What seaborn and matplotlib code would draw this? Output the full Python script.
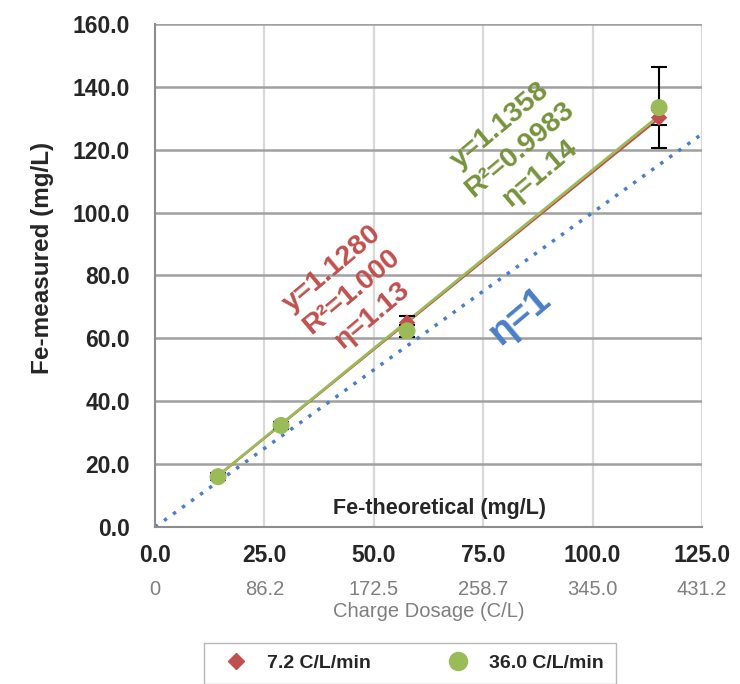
import numpy as np
import matplotlib
matplotlib.use("Agg")
import matplotlib.pyplot as plt
import seaborn as sns

# data
fe_theo = [14.4, 28.8, 57.6, 115.2]
fe_red = [16.2, 32.4, 65.0, 130.2]      # 7.2 C/L/min
err_red = [1.0, 1.0, 2.0, 2.5]
fe_green = [16.0, 32.3, 62.4, 133.4]    # 36.0 C/L/min
err_green = [1.0, 1.0, 2.0, 13.0]
slope_red = 1.1280
slope_green = 1.1358
x_ticks = [0, 25, 50, 75, 100, 125]
y_ticks = [0, 20, 40, 60, 80, 100, 120, 140, 160]
dose_ticks = [0, 86.2, 172.5, 258.7, 345.0, 431.2]
dose_labels = ["0", "86.2", "172.5", "258.7", "345.0", "431.2"]

sns.set_style("white")
plt.rcParams['font.family'] = ['Liberation Sans', 'DejaVu Sans']

RED = "#C0504D"
GREEN = "#9BBB59"
GTXT = "#77933C"
BLUE = "#4A7EC8"

fig = plt.figure(figsize=(7.4, 6.84), dpi=100)
ax = fig.add_axes([0.2095, 0.2295, 0.7391, 0.7355])

ax.set_xlim(0, 125)
ax.set_ylim(0, 160)
ax.set_xticks(x_ticks)
ax.set_yticks(y_ticks)
ax.set_xticklabels([f"{v:.1f}" for v in x_ticks], fontweight="bold", fontsize=16.5)
ax.set_yticklabels([f"{v:.1f}" for v in y_ticks], fontweight="bold", fontsize=16.5)
ax.tick_params(axis="x", length=0, pad=12)
ax.tick_params(axis="y", length=0, pad=18)

for v in x_ticks[1:]:
    ax.axvline(v, color="#d9d9d9", lw=1.6, zorder=0)
for v in y_ticks[1:]:
    ax.axhline(v, color="#a0a0a0", lw=1.8, zorder=0)
for s in ["top", "right"]:
    ax.spines[s].set_visible(False)
ax.spines["left"].set_color("#8c8c8c")
ax.spines["bottom"].set_color("#8c8c8c")
ax.spines["left"].set_linewidth(1.5)
ax.spines["bottom"].set_linewidth(1.5)

# eta = 1 reference line
ax.plot([0, 125], [0, 125], ls=(0, (1, 2.2)), color=BLUE, lw=2.5, zorder=2)

# trend lines through origin
xl = np.array([fe_theo[0], fe_theo[-1]])
ax.plot(xl, slope_red * xl, color=RED, lw=1.5, zorder=3)
ax.plot(xl, slope_green * xl, color=GREEN, lw=2, zorder=3)

ax.errorbar(fe_theo, fe_red, yerr=err_red, fmt="none", ecolor="black",
            elinewidth=1.5, capsize=6, capthick=1.5, zorder=4)
ax.errorbar(fe_theo, fe_green, yerr=err_green, fmt="none", ecolor="black",
            elinewidth=1.5, capsize=6, capthick=1.5, zorder=4)
sns.scatterplot(x=fe_theo, y=fe_red, marker="D", s=70, color=RED,
                edgecolor="none", ax=ax, zorder=5)
sns.scatterplot(x=fe_theo, y=fe_green, marker="o", s=150, color=GREEN,
                edgecolor="none", ax=ax, zorder=6)

ax.text(45.0, 74.7, "y=1.1280\nR²=1.000\nη=1.13", color=RED, fontsize=20.5,
        rotation=40, ha="center", va="center", linespacing=1.25,
        fontweight="bold")
ax.text(83.4, 120, "y=1.1358\nR²=0.9983\nη=1.14", color=GTXT, fontsize=20.5,
        rotation=40, ha="center", va="center", linespacing=1.25,
        fontweight="bold")
ax.text(83.6, 67, "η=1", color=BLUE, fontsize=28, rotation=40,
        ha="center", va="center", fontweight="bold")

ax.text(65, 6, "Fe-theoretical (mg/L)", fontsize=15.5, fontweight="bold",
        ha="center", va="center")
ax.set_ylabel("Fe-measured (mg/L)", fontsize=17.5, fontweight="bold")
ax.yaxis.set_label_coords(-0.185, 0.535)

sec = ax.secondary_xaxis(-0.095, functions=(lambda x: x * 3.4496, lambda x: x / 3.4496))
sec.set_xticks(dose_ticks)
sec.set_xticklabels(dose_labels, color="#7f7f7f", fontsize=14.5)
sec.tick_params(length=0, pad=4)
sec.spines["bottom"].set_visible(False)
sec.set_xlabel("Charge Dosage (C/L)", color="#7f7f7f", fontsize=14.5, labelpad=2)

h1 = plt.Line2D([], [], marker="D", ls="none", color=RED, ms=8)
h2 = plt.Line2D([], [], marker="o", ls="none", color=GREEN, ms=13)
leg = fig.legend([h1, h2], ["7.2 C/L/min", "36.0 C/L/min"], ncol=2,
                 loc="center", bbox_to_anchor=(0.554, 0.03), frameon=True,
                 fancybox=False, edgecolor="#a6a6a6", columnspacing=3.5,
                 handletextpad=0.6, prop={"weight": "bold", "size": 14},
                 borderpad=0.6)

fig.savefig("out.png", dpi=100)
